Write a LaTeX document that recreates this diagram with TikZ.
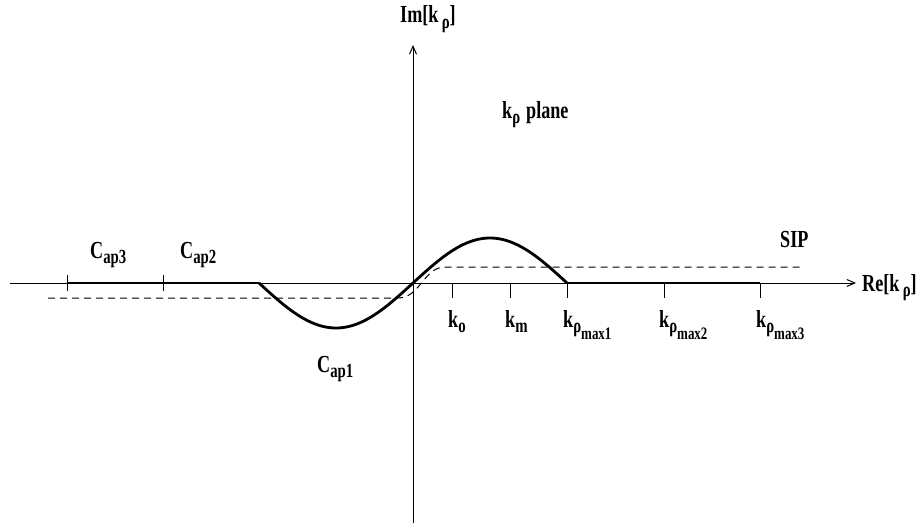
\documentclass[tikz,border=0pt]{standalone}
\usepackage{fontspec}
\setmainfont{Liberation Serif}[FakeStretch=0.74]
\usetikzlibrary{arrows.meta,calc}
\newcommand{\mainsz}{\fontsize{24.5}{24.5}\selectfont\bfseries}
\newcommand{\subx}[1]{\raisebox{-5.5pt}{\fontsize{20}{20}\selectfont\bfseries #1}}
\newcommand{\subsubx}[1]{\raisebox{-6.5pt}{\fontsize{17.5}{17.5}\selectfont\bfseries #1}}
\tikzset{
  lbl/.style={inner sep=0pt, anchor=base west, font=\mainsz},
  axisline/.style={line width=1pt, -{Straight Barb[length=8pt,width=7pt]}},
  curveline/.style={line width=2.8pt},
  pathline/.style={line width=1pt, dash pattern=on 7pt off 5pt},
  tickline/.style={line width=1pt}
}
\begin{document}
\begin{tikzpicture}[x=1pt,y=-1pt]
\useasboundingbox (0,0) rectangle (920,527);
% axes
\coordinate (xl) at (10,283);
\coordinate (xr) at (856,283);
\coordinate (yb) at (413,523);
\coordinate (yt) at (413,45);
\draw[axisline] (xl) -- (xr);
\draw[axisline] (yb) -- (yt);
% tick points
\coordinate (t3) at (67,283);
\coordinate (t2) at (163,283);
\coordinate (bend) at (259,283);
\coordinate (ko) at (452,283);
\coordinate (km) at (510,283);
\coordinate (m1) at (567,283);
\coordinate (m2) at (664,283);
\coordinate (m3) at (760,283);
% thick contour
\draw[curveline] (t3) -- (bend);
\draw[curveline] plot[domain=0:308, samples=90, smooth] ({259+\x},{283+45*sin(\x/154*180)});
\draw[curveline] (m1) -- (m3);
% ticks
\foreach \t in {t3,t2} \draw[tickline] ($(\t)+(0,-8)$) -- ($(\t)+(0,8)$);
\foreach \t in {ko,km,m1,m2,m3} \draw[tickline] (\t) -- ++(0,15);
% SIP dashed path
\coordinate (s0) at (48,298);
\coordinate (s1) at (398,298);
\coordinate (s2) at (445,267);
\coordinate (s3) at (800,267);
\draw[pathline] (s0) -- (s1) .. controls (420,298) and (424,267) .. (s2) -- (s3);
% labels
\node[lbl] (im) at (400,23) {Im[k\subx{\,ρ}]};
\node[lbl] (re) at (862,291) {Re[k\subx{\,ρ}]};
\node[lbl] (plane) at (502,118) {k\subx{ρ}\hspace{6pt}plane};
\node[lbl] (sip) at (780,247) {SIP};
\node[lbl] (c3) at (90,258) {C\subx{ap3}};
\node[lbl] (c2) at (180,258) {C\subx{ap2}};
\node[lbl] (c1) at (317,372) {C\subx{ap1}};
\node[lbl] (lko) at (448,327) {k\subx{o}};
\node[lbl] (lkm) at (505,327) {k\subx{m}};
\node[lbl] (l1) at (563,327) {k\subx{ρ\subsubx{max1}}};
\node[lbl] (l2) at (659,327) {k\subx{ρ\subsubx{max2}}};
\node[lbl] (l3) at (756,327) {k\subx{ρ\subsubx{max3}}};
\end{tikzpicture}
\end{document}
